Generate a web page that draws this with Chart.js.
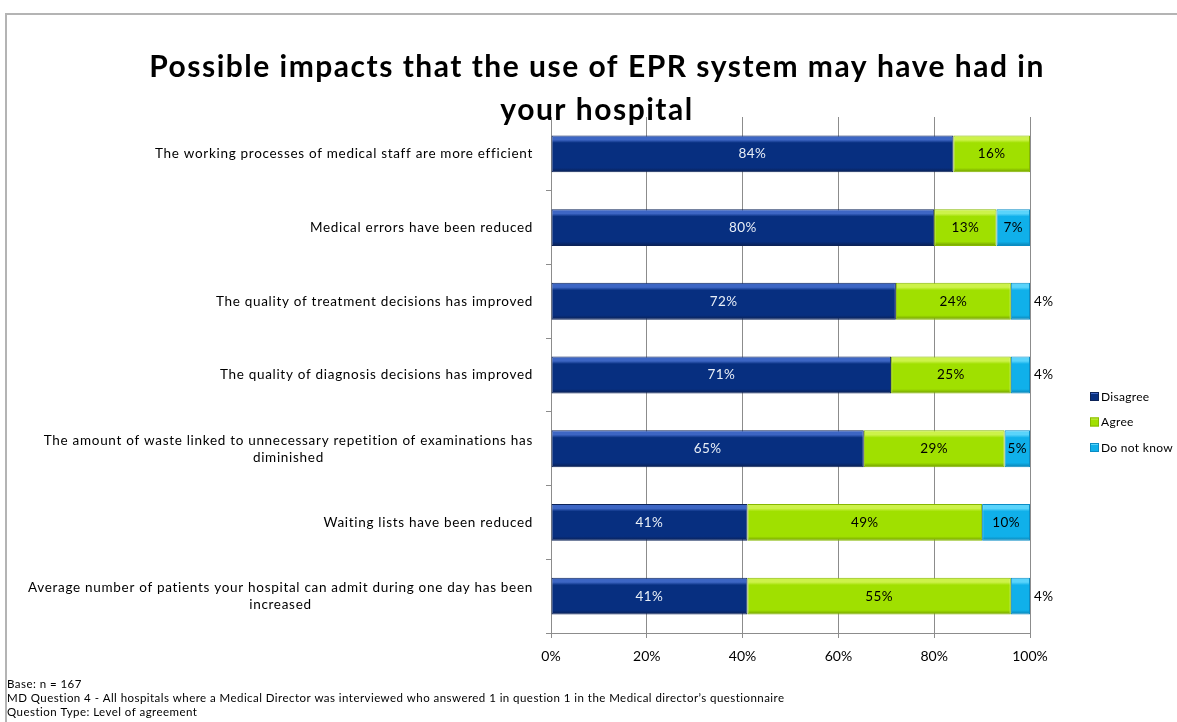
<!DOCTYPE html>
<html><head><meta charset="utf-8">
<script src="https://cdn.jsdelivr.net/npm/chart.js@4/dist/chart.umd.min.js"></script>
<style>
html,body{margin:0;padding:0;background:#fff;overflow:hidden;}
#wrap{position:relative;width:1177px;height:722px;}
#frame{position:absolute;left:5px;top:13px;width:1300px;height:800px;border:2px solid #b4b4b4;box-sizing:border-box;}
canvas{position:absolute;left:0;top:0;}
</style></head><body>
<div id="wrap"><div id="frame"></div><canvas id="c" width="1177" height="722"></canvas></div>
<script>
const titleLines = ['Possible impacts that the use of EPR system may have had in', 'your hospital'];
const categories = [
  ['The working processes of medical staff are more efficient'],
  ['Medical errors have been reduced'],
  ['The quality of treatment decisions has improved'],
  ['The quality of diagnosis decisions has improved'],
  ['The amount of waste linked to unnecessary repetition of examinations has', 'diminished'],
  ['Waiting lists have been reduced'],
  ['Average number of patients your hospital can admit during one day has been', 'increased']
];
const seriesNames = ['Disagree', 'Agree', 'Do not know'];
const disagree  = [84, 80, 72, 71, 65.3, 41, 41];
const agree     = [16, 13, 24, 25, 29.4, 49, 55];
const doNotKnow = [0, 7, 4, 4, 5.3, 10, 4];
const xTickValues = [0, 20, 40, 60, 80, 100];
const footnotes = [
  'Base: n = 167',
  "MD Question 4 - All hospitals where a Medical Director was interviewed who answered 1 in question 1 in the Medical director\u2019s questionnaire",
  'Question Type: Level of agreement'
];

const palette = [
  {base:'#072f80', light:'#3d66c4', dark:'#0a1f52', border:'#0c2358', label:'#e8eef6'},
  {base:'#a0e000', light:'#cdf24a', dark:'#6f9a00', border:'#86b800', label:'#000000'},
  {base:'#10b0ea', light:'#5ad4fb', dark:'#0a80b0', border:'#0a8cc4', label:'#000000'}
];
const FONT = 'Lato, "Liberation Sans", Arial, sans-serif';

function gradFill(p){
  return (ctx) => {
    const chart = ctx.chart;
    const ys = chart.scales && chart.scales.y;
    if (!chart.chartArea || !ys || ctx.type !== 'data') return p.base;
    const cy = ys.getPixelForValue(ctx.dataIndex);
    const half = (chart.chartArea.bottom - chart.chartArea.top) / categories.length * 0.25;
    const g = chart.ctx.createLinearGradient(0, cy - half, 0, cy + half);
    g.addColorStop(0, p.light);
    g.addColorStop(0.12, p.light);
    g.addColorStop(0.2, p.base);
    g.addColorStop(0.88, p.base);
    g.addColorStop(1, p.dark);
    return g;
  };
}

const seriesData = [disagree, agree, doNotKnow];
const datasets = seriesNames.map((name, i) => ({
  label: name,
  data: seriesData[i],
  backgroundColor: gradFill(palette[i]),
  borderColor: palette[i].border,
  borderWidth: 1,
  borderSkipped: false,
  categoryPercentage: 0.5,
  barPercentage: 1
}));

function setSpacing(c, px){ if ('letterSpacing' in c) c.letterSpacing = px + 'px'; }

const decoPlugin = {
  id: 'deco',
  afterDatasetsDraw(chart){
    const c = chart.ctx;
    c.save();
    c.font = '13.5px ' + FONT;
    setSpacing(c, 0.4);
    c.textBaseline = 'middle';
    chart.data.datasets.forEach((ds, i) => {
      const meta = chart.getDatasetMeta(i);
      meta.data.forEach((bar, j) => {
        const v = ds.data[j];
        if (!v) return;
        const txt = Math.round(v) + '%';
        const w = Math.abs(bar.x - bar.base);
        const tw = c.measureText(txt).width;
        if (tw + 5 > w) {
          c.fillStyle = '#000';
          c.textAlign = 'left';
          c.fillText(txt, Math.max(bar.x, bar.base) + 4, bar.y);
        } else {
          c.fillStyle = palette[i].label;
          c.textAlign = 'center';
          c.fillText(txt, (bar.x + bar.base) / 2, bar.y);
        }
      });
    });
    c.restore();
  },
  afterDraw(chart){
    const c = chart.ctx;
    const ys = chart.scales.y;
    c.save();
    // category labels (right-aligned block, centered lines)
    c.font = '13.5px ' + FONT;
    setSpacing(c, 0.7);
    c.fillStyle = '#000';
    c.textBaseline = 'middle';
    const right = ys.right - 18;
    const lh = 17;
    categories.forEach((lines, j) => {
      const cy = ys.getPixelForValue(j);
      const widths = lines.map(l => c.measureText(l).width);
      const maxW = Math.max(...widths);
      const cx = right - maxW / 2;
      c.textAlign = 'center';
      lines.forEach((l, k) => {
        c.fillText(l, cx, cy + (k - (lines.length - 1) / 2) * lh);
      });
    });
    // title
    c.font = 'bold 30px ' + FONT;
    setSpacing(c, 1.5);
    c.textAlign = 'center';
    c.fillText(titleLines[0], 597, 67);
    c.fillText(titleLines[1], 597, 110);
    // legend
    c.font = '12px ' + FONT;
    setSpacing(c, 0.3);
    c.textAlign = 'left';
    seriesNames.forEach((n, i) => {
      const y = 397 + i * 25.5;
      const p = palette[i];
      c.fillStyle = p.base;
      c.fillRect(1090, y - 5, 9, 9);
      c.fillStyle = p.light;
      c.fillRect(1090, y - 5, 9, 2);
      c.strokeStyle = p.border;
      c.lineWidth = 1;
      c.strokeRect(1090.5, y - 4.5, 8, 8);
      c.fillStyle = '#000';
      c.fillText(n, 1101, y);
    });
    // footnotes
    c.font = '11.5px ' + FONT;
    setSpacing(c, 0.45);
    footnotes.forEach((f, k) => c.fillText(f, 7, 684 + k * 14));
    c.restore();
  }
};

new Chart(document.getElementById('c'), {
  type: 'bar',
  data: { labels: categories.map(l => l.join(' ')), datasets },
  options: {
    indexAxis: 'y',
    responsive: false,
    animation: false,
    layout: { padding: { top: 117, right: 147, bottom: 49, left: 0 } },
    plugins: { legend: { display: false }, tooltip: { enabled: false }, title: { display: false } },
    scales: {
      x: {
        stacked: true,
        min: 0, max: 100,
        afterBuildTicks: (s) => { s.ticks = xTickValues.map(v => ({ value: v })); },
        ticks: { callback: (v) => v + '%', font: { size: 14, family: FONT }, color: '#000', padding: 10 },
        grid: { color: '#8c8c8c', lineWidth: 1, tickLength: 5, drawTicks: true },
        border: { color: '#8c8c8c' },
        afterFit: (s) => { s.height = 40; }
      },
      y: {
        stacked: true,
        ticks: { display: false },
        grid: { drawOnChartArea: false, color: '#8c8c8c', tickLength: 5, offset: true },
        border: { color: '#8c8c8c' },
        afterFit: (s) => { s.width = 551; }
      }
    }
  },
  plugins: [decoPlugin]
});
</script>
</body></html>
